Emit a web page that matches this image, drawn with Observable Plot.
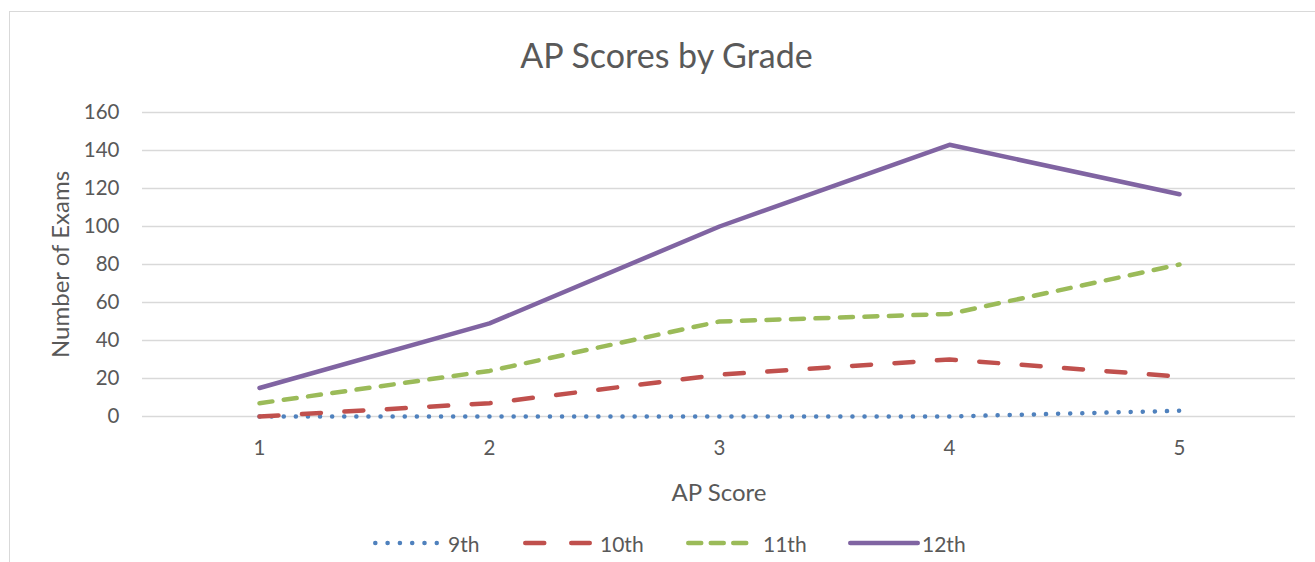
<!DOCTYPE html>
<html>
<head>
<meta charset="utf-8">
<script src="https://cdn.jsdelivr.net/npm/d3@7"></script>
<script src="https://cdn.jsdelivr.net/npm/@observablehq/plot@0.6"></script>
<style>
  html, body { margin: 0; padding: 0; background: #fff; }
  body { width: 1315px; height: 562px; position: relative; overflow: hidden; font-family: "Lato", "Open Sans", sans-serif; color: #595959; }
  #frame { position: absolute; left: 9px; top: 11px; width: 1400px; height: 700px; border-left: 1.5px solid #d9d9d9; border-top: 1.5px solid #d9d9d9; box-sizing: border-box; }
  #title { position: absolute; left: 0; top: 34px; width: 1333px; height: 42px; line-height: 42px; text-align: center; font-size: 34px; color: #595959; }
  #chart { position: absolute; left: 0; top: 80px; }
  #legend { position: absolute; left: 0; top: 528px; width: 1315px; height: 30px; font-size: 21px; color: #595959; }
  #legend .item { position: absolute; top: 0; height: 30px; display: flex; align-items: center; }
  #legend svg { display: block; }
</style>
</head>
<body>
<div id="frame"></div>
<div id="title">AP Scores by Grade</div>
<div id="chart"></div>
<div id="legend"></div>
<script>
// ---- data ----
const scores = [1, 2, 3, 4, 5];
const grades = ["9th", "10th", "11th", "12th"];
const g9  = [0, 0, 0, 0, 3];
const g10 = [0, 7, 22, 30, 21];
const g11 = [7, 24, 50, 54, 80];
const g12 = [15, 49, 100, 143, 117];
const yTicks = [0, 20, 40, 60, 80, 100, 120, 140, 160];

// ---- styles ----
const seriesValues = [g9, g10, g11, g12];
const colors = ["#4F81BD", "#C0504D", "#9BBB59", "#8064A2"];
const dashes = ["0.1 12", "19 23.5", "13 11.5", null];
const legendDashes = ["0.1 12.2", "19 27", "13 9.5", null];
const lw = 4.5;

const rows = [];
grades.forEach((g, i) => scores.forEach((s, j) => rows.push({grade: g, score: s, value: seriesValues[i][j]})));

const textColor = "#595959";
const fontFamily = "Lato, 'Open Sans', sans-serif";

const marks = [
  Plot.gridY(yTicks, {stroke: "#d9d9d9", strokeOpacity: 1, strokeWidth: 1.5}),
  Plot.axisY(yTicks, {tickSize: 0, tickPadding: 23, fontSize: 20.5, fill: textColor, label: null}),
  Plot.axisX(scores, {tickSize: 0, tickPadding: 24, fontSize: 20.5, fill: textColor, label: null}),
  Plot.text(["Number of Exams"], {frameAnchor: "left", dx: -81, rotate: -90, fontSize: 24, fill: textColor, lineAnchor: "middle", textAnchor: "middle"}),
  Plot.text(["AP Score"], {frameAnchor: "bottom", dy: 77, fontSize: 24, fill: textColor, lineAnchor: "middle", textAnchor: "middle"})
];
grades.forEach((g, i) => {
  marks.push(Plot.line(rows.filter(d => d.grade === g), {
    x: "score", y: "value", stroke: colors[i], strokeWidth: lw,
    strokeDasharray: dashes[i] || undefined, strokeLinecap: "round", strokeLinejoin: "round"
  }));
});

const chart = Plot.plot({
  width: 1315,
  height: 440,
  marginTop: 32,
  marginBottom: 104,
  marginLeft: 142,
  marginRight: 20,
  style: {fontFamily, background: "transparent", color: textColor},
  x: {type: "point", domain: scores, padding: 0.5},
  y: {domain: [0, 160]},
  marks
});
document.getElementById("chart").appendChild(chart);

// ---- legend ----
const legend = document.getElementById("legend");
const swatchX = [373, 523, 686, 848];
const swatchW = [66, 69, 67, 72];
const labelX = [448, 600, 763, 922];
grades.forEach((g, i) => {
  const item = document.createElement("div");
  item.className = "item";
  item.style.left = swatchX[i] + "px";
  const w = swatchW[i];
  const dash = legendDashes[i] ? ` stroke-dasharray="${legendDashes[i]}"` : "";
  const gap = labelX[i] - swatchX[i] - w;
  item.innerHTML = `<svg width="${w}" height="12"><line x1="${lw/2}" y1="6" x2="${w - lw/2}" y2="6" stroke="${colors[i]}" stroke-width="${lw}" stroke-linecap="round"${dash}/></svg><span style="margin-left:${gap}px">${g}</span>`;
  legend.appendChild(item);
});
</script>
</body>
</html>
